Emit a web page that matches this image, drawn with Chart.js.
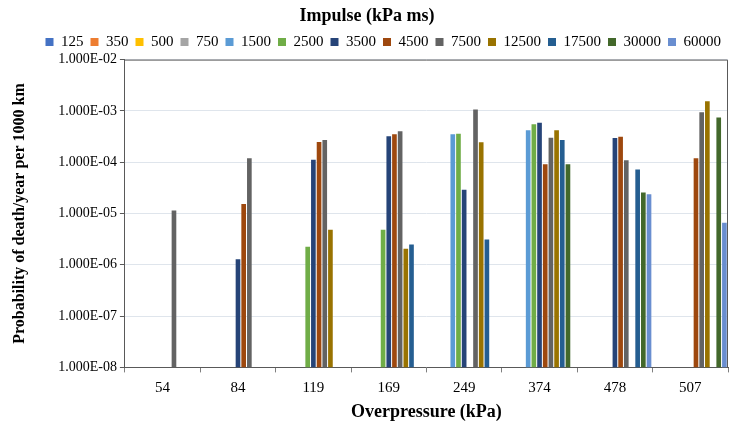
<!DOCTYPE html>
<html>
<head>
<meta charset="utf-8">
<script src="https://cdn.jsdelivr.net/npm/chart.js@4"></script>
<style>
  body { margin: 0; background: #fff; }
  #wrap { width: 735px; height: 423px; }
</style>
</head>
<body>
<div id="wrap"><canvas id="chart"></canvas></div>
<script>
// --- Data ---
const overpressure = ["54", "84", "119", "169", "249", "374", "478", "507"];
const impulse = ["125", "350", "500", "750", "1500", "2500", "3500", "4500", "7500", "12500", "17500", "30000", "60000"];

const i125   = [null, null, null, null, null, null, null, null];
const i350   = [null, null, null, null, null, null, null, null];
const i500   = [null, null, null, null, null, null, null, null];
const i750   = [null, null, null, null, null, null, null, null];
const i1500  = [null, null, null, null, 3.5e-4, 4.2e-4, null, null];
const i2500  = [null, null, 2.25e-6, 4.8e-6, 3.6e-4, 5.5e-4, null, null];
const i3500  = [null, 1.28e-6, 1.11e-4, 3.2e-4, 2.9e-5, 5.9e-4, 2.96e-4, null];
const i4500  = [null, 1.54e-5, 2.47e-4, 3.5e-4, null, 9.1e-5, 3.13e-4, 1.2e-4];
const i7500  = [1.15e-5, 1.2e-4, 2.7e-4, 4.0e-4, 1.07e-3, 3.0e-4, 1.09e-4, 9.4e-4];
const i12500 = [null, null, 4.8e-6, 2.06e-6, 2.44e-4, 4.2e-4, null, 1.55e-3];
const i17500 = [null, null, null, 2.5e-6, 3.12e-6, 2.7e-4, 7.2e-5, null];
const i30000 = [null, null, null, null, null, 9.1e-5, 2.58e-5, 7.4e-4];
const i60000 = [null, null, null, null, null, null, 2.36e-5, 6.6e-6];

const seriesValues = [i125, i350, i500, i750, i1500, i2500, i3500, i4500, i7500, i12500, i17500, i30000, i60000];
const seriesColors = ["#4472C4", "#ED7D31", "#FFC000", "#A5A5A5", "#5B9BD5", "#70AD47",
                      "#264478", "#9E480E", "#636363", "#997300", "#255E91", "#43682B", "#698ED0"];

const serif = "'Liberation Serif', 'Times New Roman', serif";

// --- Build chart ---
const datasets = impulse.map((name, i) => ({
  label: name,
  data: seriesValues[i],
  backgroundColor: seriesColors[i],
  borderColor: seriesColors[i],
  borderWidth: 0,
  categoryPercentage: 0.98,
  barPercentage: 0.82
}));

function sciLabel(v) {
  const e = Math.round(Math.log10(v));
  const sign = e < 0 ? "-" : "+";
  const a = Math.abs(e);
  return "1.000E" + sign + (a < 10 ? "0" + a : a);
}

new Chart(document.getElementById("chart"), {
  type: "bar",
  data: { labels: overpressure, datasets },
  options: {
    responsive: true,
    maintainAspectRatio: false,
    animation: false,
    layout: { padding: { left: 6, right: 7, top: 0, bottom: 0 } },
    plugins: {
      title: {
        display: true,
        text: "Impulse (kPa ms)",
        color: "#000",
        font: { family: serif, size: 18, weight: "bold" },
        padding: { top: 6, bottom: 0 }
      },
      legend: {
        position: "top",
        align: "end",
        labels: {
          color: "#000",
          font: { family: serif, size: 15 },
          boxWidth: 8,
          boxHeight: 8,
          padding: 7
        }
      },
      tooltip: { enabled: false }
    },
    scales: {
      x: {
        grid: {
          display: true,
          offset: true,
          drawOnChartArea: false,
          tickLength: 5,
          color: "#7f7f7f"
        },
        border: { color: "#595959" },
        ticks: { color: "#000", font: { family: serif, size: 15 }, padding: 7 },
        title: {
          display: true,
          text: "Overpressure (kPa)",
          color: "#000",
          font: { family: serif, size: 18, weight: "bold" },
          padding: { top: -3, bottom: 0 }
        }
      },
      y: {
        type: "logarithmic",
        min: 1e-8,
        max: 1e-2,
        afterBuildTicks: axis => {
          axis.ticks = axis.ticks.filter(t => Math.abs(Math.log10(t.value) - Math.round(Math.log10(t.value))) < 1e-6);
        },
        grid: { color: "#dfe5ec", tickLength: 5, tickColor: "#595959" },
        border: { color: "#595959" },
        ticks: {
          color: "#000",
          font: { family: serif, size: 14 },
          padding: 3,
          callback: v => sciLabel(v)
        },
        title: {
          display: true,
          text: "Probability of death/year per 1000 km",
          color: "#000",
          font: { family: serif, size: 16, weight: "bold" },
          padding: { bottom: 26 }
        }
      }
    }
  },
  plugins: [{
    id: "frame",
    afterDraw(chart) {
      const { ctx, chartArea: a } = chart;
      ctx.save();
      ctx.strokeStyle = "#595959";
      ctx.lineWidth = 1;
      ctx.beginPath();
      ctx.moveTo(a.left, a.top + 0.5);
      ctx.lineTo(a.right - 0.5, a.top + 0.5);
      ctx.lineTo(a.right - 0.5, a.bottom);
      ctx.stroke();
      ctx.restore();
    }
  }]
});
</script>
</body>
</html>
